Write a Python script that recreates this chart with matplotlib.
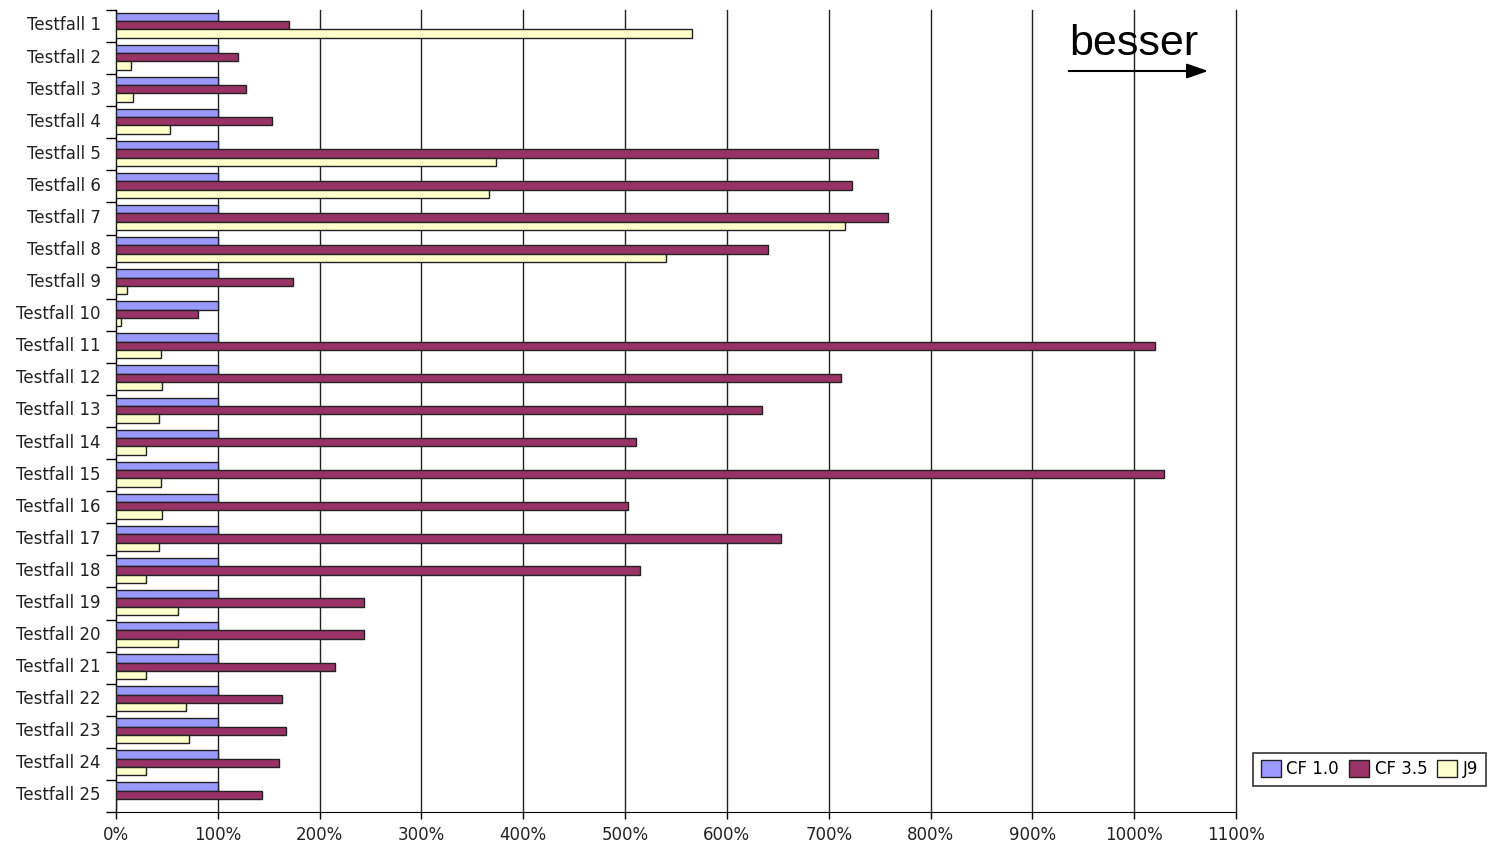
import matplotlib.pyplot as plt
import numpy as np

# Daten (Prozent, relativ zu CF 1.0)
testfaelle = ['Testfall %d' % i for i in range(1, 26)]
cf10 = [100] * 25
cf35 = [170, 120, 128, 153, 748, 723, 758, 640, 174, 81,
        1020, 712, 634, 511, 1029, 503, 653, 515, 244, 244,
        215, 163, 167, 160, 143]
j9 = [566, 15, 17, 53, 373, 366, 716, 540, 11, 5,
      44, 45, 42, 29, 44, 45, 42, 29, 61, 61,
      29, 69, 72, 29, 0]

serien = ['CF 1.0', 'CF 3.5', 'J9']
farben = ['#9999FF', '#993366', '#FFFFCC']

fig = plt.figure(figsize=(14.91, 8.43), dpi=100)
ax = fig.add_axes([116 / 1491, 1 - 812 / 843, 1120 / 1491, 802 / 843])

y = np.arange(len(testfaelle))
h = 0.26
for k, (werte, farbe, name) in enumerate(zip([cf10, cf35, j9], farben, serien)):
    ax.barh(y + (k - 1) * h - 0.03, werte, height=h, color=farbe,
            edgecolor='#222222', linewidth=1, label=name, zorder=3)

ax.set_xlim(0, 1100)
ax.set_ylim(len(testfaelle) - 0.5, -0.5)
ax.set_xticks(range(0, 1101, 100))
ax.set_xticklabels(['%d%%' % v for v in range(0, 1101, 100)])
ax.set_yticks(y - 0.08)
ax.set_yticklabels(testfaelle)
ax.set_yticks(np.arange(-0.5, len(testfaelle), 1), minor=True)
ax.tick_params(axis='y', which='major', length=0, pad=11, labelsize=12, labelcolor='#222222')
ax.tick_params(axis='y', which='minor', length=7, width=1)
ax.tick_params(axis='x', length=5, width=1, pad=5, labelsize=12, labelcolor='#222222')
ax.grid(axis='x', color='#222222', linewidth=1, zorder=0)
for gl in ax.get_xgridlines():
    gl.set_clip_on(False)
ax.spines['top'].set_visible(False)
ax.spines['right'].set_visible(False)

# "besser" mit Pfeil
fig.text(1069 / 1491, 1 - 55 / 843, 'besser', fontsize=31,
         family='Liberation Sans', ha='left', va='baseline')
ax.annotate('', xy=(1211 / 1491, 1 - 71 / 843), xytext=(1066 / 1491, 1 - 71 / 843),
            xycoords='figure fraction', textcoords='figure fraction',
            arrowprops=dict(arrowstyle='-|>,head_length=1.3,head_width=0.45',
                            color='black', lw=1.5))

leg = fig.legend(loc='lower left', bbox_to_anchor=(1253 / 1491, 1 - 786 / 843),
                 ncol=3, fontsize=12, frameon=True, fancybox=False,
                 handlelength=1.2, handleheight=1.2, handletextpad=0.35,
                 columnspacing=0.6, borderpad=0.45, borderaxespad=0)
leg.get_frame().set_edgecolor('black')
leg.get_frame().set_linewidth(1.2)

plt.savefig('out.png')
